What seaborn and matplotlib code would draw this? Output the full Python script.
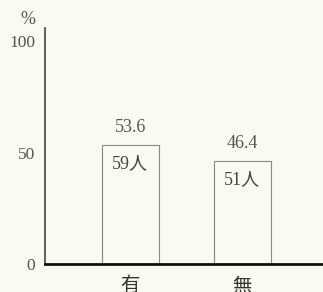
import pandas as pd
import seaborn as sns
import matplotlib.pyplot as plt

categories = ["有", "無"]
percents = [53.6, 46.4]
counts = ["59人", "51人"]

sns.set_style("white")
plt.rcParams["font.family"] = ["Liberation Serif", "Noto Sans CJK JP"]

bg = "#fafaf0"
df = pd.DataFrame({"cat": categories, "pct": percents})

fig = plt.figure(figsize=(3.23, 2.92), dpi=100, facecolor=bg)
ax = fig.add_axes([0.139, 0.096, 0.861, 0.808])
ax.set_facecolor(bg)

sns.barplot(data=df, x="cat", y="pct", ax=ax, width=0.51,
            color=bg, edgecolor="#888888", linewidth=0.8, saturation=1)

ax.set_xlim(-0.76, 1.72)
ax.set_ylim(0, 106)
ax.set_yticks([0, 50, 100])
ax.set_yticklabels(["0", "50", "100"], fontsize=12.5, color="#555555")
ax.tick_params(axis="y", length=0, pad=7)
ax.tick_params(axis="x", length=0, pad=8)
ax.set_xticks(range(len(categories)))
ax.set_xticklabels(categories, fontsize=14, color="#333333",
                   family=["Noto Sans CJK JP"])
ax.set_xlabel("")
ax.set_ylabel("")

for s in ["top", "right"]:
    ax.spines[s].set_visible(False)
ax.spines["left"].set_color("#444444")
ax.spines["left"].set_linewidth(1.2)
ax.spines["bottom"].set_color("#111111")
ax.spines["bottom"].set_linewidth(2)

for i, (p, c) in enumerate(zip(percents, counts)):
    ax.text(i, p + 4, f"{p}", ha="center", va="bottom", fontsize=13, color="#555555")
    ax.text(i, p - 4.5, c, ha="center", va="top", fontsize=13, color="#444444",
            family=["Liberation Serif", "Noto Sans CJK JP"])

fig.text(0.087, 0.932, "%", ha="center", va="center", fontsize=13, color="#555555")

fig.savefig("out.png", dpi=100, facecolor=bg)
